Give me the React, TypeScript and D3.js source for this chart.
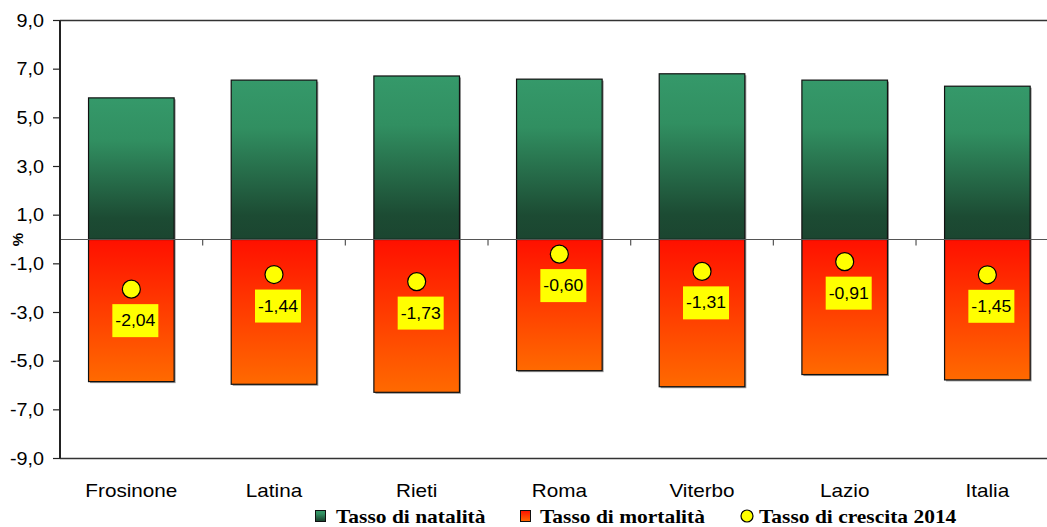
import React from "react";
import * as d3 from "d3";

// Demographic rates by province (per cent)
const categories = ["Frosinone", "Latina", "Rieti", "Roma", "Viterbo", "Lazio", "Italia"];
const natalita = [5.82, 6.55, 6.72, 6.59, 6.81, 6.55, 6.3];
const mortalita = [-5.84, -5.95, -6.28, -5.39, -6.05, -5.55, -5.77];
const crescita = [-2.04, -1.44, -1.73, -0.6, -1.31, -0.91, -1.45];
const yTicks = [9, 7, 5, 3, 1, -1, -3, -5, -7, -9];
const legendLabels = ["Tasso di natalità", "Tasso di mortalità", "Tasso di crescita 2014"];

const W = 1047;
const H = 527;
const left = 60;
const right = 1058.7;
const top = 20.5;
const bottom = 458.5;
const SX = 1.13; // horizontal text stretch

const fmt = (v: number) => d3.format(".1f")(v).replace(".", ",").replace("−", "-");
const fmt2 = (v: number) => d3.format(".2f")(v).replace(".", ",").replace("−", "-");

export default function App() {
  const y = d3.scaleLinear().domain([-9, 9]).range([bottom, top]);
  const x = d3
    .scaleBand<string>()
    .domain(categories)
    .range([left, right])
    .paddingInner(0.4)
    .paddingOuter(0.2);
  const bw = x.bandwidth();
  const step = x.step();
  const y0 = y(0);
  const arial = "Arial, 'Liberation Sans', Helvetica, sans-serif";
  const serif = "'Times New Roman', 'Liberation Serif', serif";

  return (
    <svg
      width={W}
      height={H}
      style={{ position: "absolute", left: 0, top: 0, background: "#fff" }}
    >
      <defs>
        <linearGradient id="gNat" x1="0" y1="0" x2="0" y2="1">
          <stop offset="0%" stopColor="#35996a" />
          <stop offset="30%" stopColor="#318f61" />
          <stop offset="85%" stopColor="#1c4b33" />
          <stop offset="100%" stopColor="#1b4530" />
        </linearGradient>
        <linearGradient id="gMor" x1="0" y1="0" x2="0" y2="1">
          <stop offset="0%" stopColor="#ff1000" />
          <stop offset="100%" stopColor="#ff6a00" />
        </linearGradient>
      </defs>

      {/* plot frame */}
      <line x1={left} x2={W} y1={top} y2={top} stroke="#333" strokeWidth={1.3} />
      <line x1={left} x2={W} y1={bottom} y2={bottom} stroke="#333" strokeWidth={1.3} />

      {/* bar shadows */}
      {categories.map((c, i) => (
        <g key={"sh" + c}>
          <rect x={(x(c) as number) + 1.5} y={y(natalita[i]) + 1.5} width={bw} height={y0 - y(natalita[i])} fill="#999" />
          <rect x={(x(c) as number) + 1.5} y={y0 + 1.5} width={bw} height={y(mortalita[i]) - y0} fill="#999" />
        </g>
      ))}

      {/* bars */}
      {categories.map((c, i) => (
        <g key={"b" + c}>
          <rect
            x={x(c) as number}
            y={y(natalita[i])}
            width={bw}
            height={y0 - y(natalita[i])}
            fill="url(#gNat)"
            stroke="#111"
            strokeWidth={1.2}
          />
          <rect
            x={x(c) as number}
            y={y0}
            width={bw}
            height={y(mortalita[i]) - y0}
            fill="url(#gMor)"
            stroke="#111"
            strokeWidth={1.2}
          />
        </g>
      ))}

      {/* zero axis with category ticks */}
      <line x1={left} x2={W} y1={y0} y2={y0} stroke="#555" strokeWidth={1.2} />
      {categories.slice(1).map((c) => (
        <line
          key={"t" + c}
          x1={(x(c) as number) - (step - bw) / 2}
          x2={(x(c) as number) - (step - bw) / 2}
          y1={y0}
          y2={y0 + 6}
          stroke="#555"
          strokeWidth={1.2}
        />
      ))}

      {/* y axis */}
      <line x1={left} x2={left} y1={top} y2={bottom} stroke="#222" strokeWidth={2} />
      {yTicks.map((t) => (
        <g key={"y" + t}>
          <line x1={left - 7} x2={left} y1={y(t)} y2={y(t)} stroke="#222" strokeWidth={1.2} />
          <text
            transform={`translate(44,${y(t) + 6}) scale(${SX},1)`}
            textAnchor="end"
            fontFamily={arial}
            fontSize={17.5}
            fill="#000"
          >
            {fmt(t)}
          </text>
        </g>
      ))}
      <text
        transform={`translate(23,${y0}) rotate(-90)`}
        textAnchor="middle"
        fontFamily={arial}
        fontWeight="bold"
        fontSize={15}
      >
        %
      </text>

      {/* category labels */}
      {categories.map((c) => (
        <text
          key={"c" + c}
          transform={`translate(${(x(c) as number) + bw / 2},497) scale(1.15,1)`}
          textAnchor="middle"
          fontFamily={arial}
          fontSize={18}
        >
          {c}
        </text>
      ))}

      {/* growth rate markers and value labels */}
      {categories.map((c, i) => {
        const cx = (x(c) as number) + bw / 2;
        const cy = y(crescita[i]);
        const bx = cx + 4;
        return (
          <g key={"d" + c}>
            <circle cx={cx} cy={cy} r={9} fill="#ffff00" stroke="#000" strokeWidth={1.2} />
            <rect x={bx - 23} y={cy + 15} width={46} height={33} fill="#ffff00" />
            <text
              transform={`translate(${bx},${cy + 37}) scale(1.1,1)`}
              textAnchor="middle"
              fontFamily={arial}
              fontSize={16}
            >
              {fmt2(crescita[i])}
            </text>
          </g>
        );
      })}

      {/* legend */}
      <g fontFamily={serif} fontWeight="bold" fontSize={19}>
        <rect x={315.5} y={510.5} width={10} height={11} fill="url(#gNat)" stroke="#111" strokeWidth={1} />
        <text transform={`translate(336,523) scale(1.13,1)`}>{legendLabels[0]}</text>
        <rect x={520.5} y={510.5} width={10} height={11} fill="url(#gMor)" stroke="#111" strokeWidth={1} />
        <text transform={`translate(540,523) scale(1.13,1)`}>{legendLabels[1]}</text>
        <circle cx={747} cy={516} r={6} fill="#ffff00" stroke="#000" strokeWidth={1.2} />
        <text transform={`translate(759,523) scale(1.13,1)`}>{legendLabels[2]}</text>
      </g>
    </svg>
  );
}
